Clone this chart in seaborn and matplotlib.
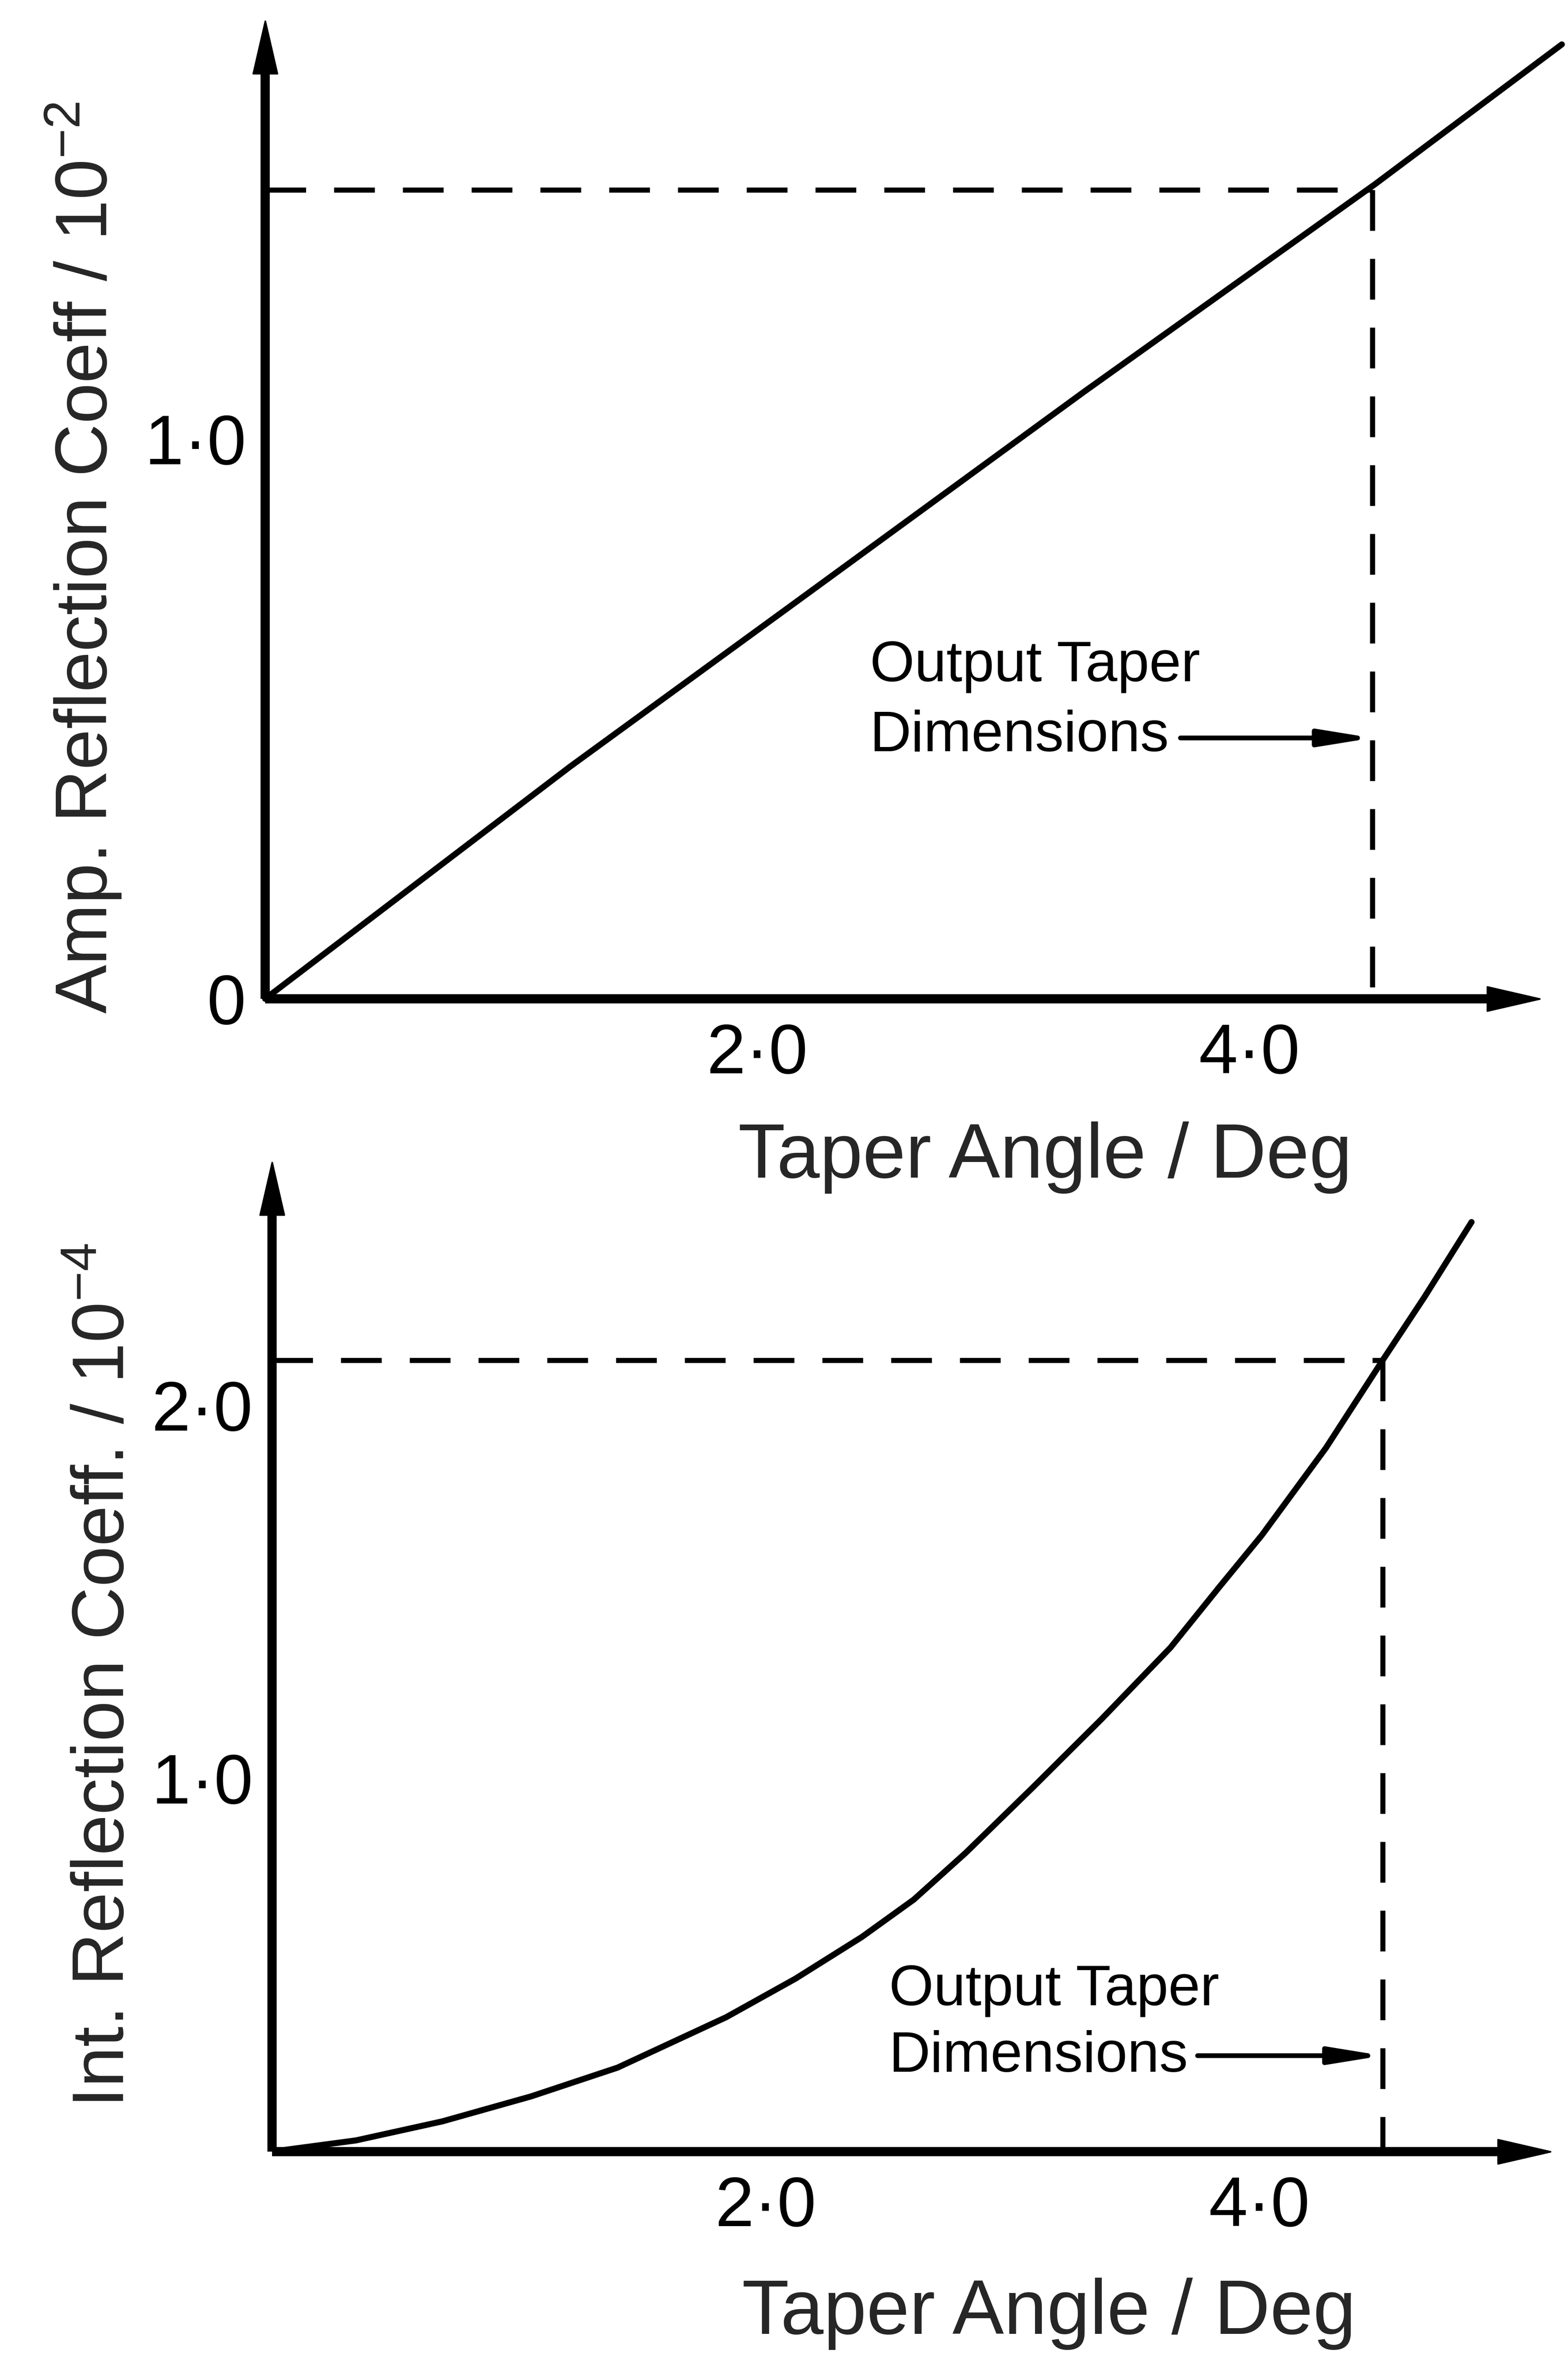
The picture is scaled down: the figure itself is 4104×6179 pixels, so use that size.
import matplotlib
matplotlib.use("Agg")
import matplotlib.pyplot as plt
from matplotlib.path import Path
import seaborn as sns

# ---------------- data ----------------
amp_angle = [0, 1.24, 2.13, 3.33, 4.51, 5.27]
amp_coeff = [0, 0.415, 0.70, 1.085, 1.455, 1.705]

int_angle = [0, 0.34, 0.69, 1.05, 1.40, 1.84, 2.12, 2.39, 2.60, 2.81,
             3.08, 3.36, 3.64, 3.84, 4.01, 4.27, 4.50, 4.67, 4.86]
int_coeff = [0, 0.03, 0.081, 0.148, 0.225, 0.36, 0.463, 0.575, 0.675, 0.80,
             0.974, 1.158, 1.35, 1.514, 1.651, 1.885, 2.12, 2.29, 2.49]

output_angle = 4.5
amp_level = 1.445
int_level = 2.12

x_ticks = [2.0, 4.0]
x_tick_labels = ["2·0", "4·0"]
amp_major = [0.0, 1.0]
amp_major_labels = ["0", "1·0"]
amp_minor = [0.5, 1.5]
int_ticks = [1.0, 2.0]
int_tick_labels = ["1·0", "2·0"]

x_label = "Taper Angle / Deg"
amp_ylabel = "Amp. Reflection Coeff / $10^{-2}$"
int_ylabel = "Int. Reflection Coeff. / $10^{-4}$"
note_lines = ["Output Taper", "Dimensions"]

# ---------------- style ----------------
sns.set_style("white")
FAM = "Liberation Sans"
plt.rcParams["font.family"] = [FAM, "DejaVu Sans"]
plt.rcParams["mathtext.fontset"] = "custom"
plt.rcParams["mathtext.rm"] = FAM
plt.rcParams["mathtext.it"] = FAM
plt.rcParams["mathtext.bf"] = FAM
plt.rcParams["mathtext.default"] = "rm"

FS_XLABEL = 48.5
FS_YLABEL = 46
FS_TICK = 44
FS_NOTE = 36
SPINE_W = 5.8
CURVE_W = 3.8
DASH_W = 3.2

DPI = 300
fig = plt.figure(figsize=(4104 / DPI, 6179 / DPI), dpi=DPI)
fig.patch.set_facecolor("white")


def head(direction):
    """Elongated filled arrow-head marker whose tip sits on the data point."""
    if direction == "right":
        v = [(0, 0), (-1, 0.23), (-1, -0.23), (0, 0)]
    else:
        v = [(0, 0), (0.23, -1), (-0.23, -1), (0, 0)]
    return Path(v, [Path.MOVETO, Path.LINETO, Path.LINETO, Path.CLOSEPOLY])


def setup_axes(ax, xmax, ymax, xtip, ytip):
    ax.set_xlim(0, xmax)
    ax.set_ylim(0, ymax)
    ax.set_facecolor("none")
    for s in ["top", "right"]:
        ax.spines[s].set_visible(False)
    for s in ["left", "bottom"]:
        ax.spines[s].set_linewidth(SPINE_W)
        ax.spines[s].set_color("black")
        ax.spines[s].set_capstyle("butt")
    ax.spines["bottom"].set_bounds(0, xtip - 0.08)
    ax.spines["left"].set_bounds(0, ytip - 0.06)
    ax.plot([xtip], [0], marker=head("right"), markersize=66, color="black",
            clip_on=False, zorder=5, linestyle="none")
    ax.plot([0], [ytip], marker=head("up"), markersize=66, color="black",
            clip_on=False, zorder=5, linestyle="none")
    ax.set_xticks(x_ticks)
    ax.set_xticklabels(x_tick_labels, fontsize=FS_TICK)
    ax.tick_params(axis="x", which="major", direction="in", length=24,
                   width=4.8, pad=15, colors="black")
    ax.tick_params(axis="y", which="both", direction="in", width=4.8,
                   pad=12, colors="black", labelsize=FS_TICK)
    ax.grid(False)


def note(ax, x0, y_top, y_bot, arrow_y, arrow_x0):
    ax.text(x0, y_top, note_lines[0], fontsize=FS_NOTE, ha="left",
            va="baseline", color="black")
    ax.text(x0, y_bot, note_lines[1], fontsize=FS_NOTE, ha="left",
            va="baseline", color="black")
    ax.annotate("", xy=(output_angle, arrow_y), xytext=(arrow_x0, arrow_y),
                arrowprops=dict(arrowstyle="-|>,head_length=0.8,head_width=0.13",
                                lw=3, color="black", shrinkA=0, shrinkB=0,
                                mutation_scale=34))


dash = (8, 5.5)

# ---------------- top panel ----------------
ax1 = fig.add_axes([694 / 4104, (6179 - 2614) / 6179, 5.3 * 644 / 4104, 1.76 * 1465 / 6179])
setup_axes(ax1, 5.3, 1.76, 5.18, 1.747)
sns.lineplot(x=amp_angle, y=amp_coeff, ax=ax1, color="black", linewidth=CURVE_W,
             estimator=None, sort=False)
for l in ax1.lines:
    l.set_clip_on(False)
ax1.plot([0, output_angle], [amp_level, amp_level], color="black", lw=DASH_W,
         dashes=dash)
ax1.plot([output_angle, output_angle], [amp_level, 0], color="black", lw=DASH_W,
         dashes=dash)
ax1.set_yticks(amp_major)
ax1.set_yticklabels(amp_major_labels, fontsize=FS_TICK)
ax1.set_yticks(amp_minor, minor=True)
ax1.tick_params(axis="y", which="major", length=26)
ax1.tick_params(axis="y", which="minor", length=16)
ax1.set_xlabel(x_label, fontsize=FS_XLABEL)
ax1.xaxis.set_label_coords(0.598, -0.1245)
ax1.set_ylabel(amp_ylabel, fontsize=FS_YLABEL)
ax1.yaxis.set_label_coords(-0.109, 0.4476)
note(ax1, 2.458, 0.567, 0.442, 0.466, 3.72)

# ---------------- bottom panel ----------------
ax2 = fig.add_axes([712 / 4104, (6179 - 5631) / 6179, 5.3 * 646 / 4104, 2.68 * 977 / 6179])
setup_axes(ax2, 5.3, 2.68, 5.18, 2.65)
sns.lineplot(x=int_angle, y=int_coeff, ax=ax2, color="black", linewidth=CURVE_W,
             estimator=None, sort=False)
ax2.plot([0, output_angle], [int_level, int_level], color="black", lw=DASH_W,
         dashes=dash)
ax2.plot([output_angle, output_angle], [int_level, 0], color="black", lw=DASH_W,
         dashes=dash)
ax2.set_yticks(int_ticks)
ax2.set_yticklabels(int_tick_labels, fontsize=FS_TICK)
ax2.tick_params(axis="y", which="major", length=24)
ax2.set_xlabel(x_label, fontsize=FS_XLABEL)
ax2.xaxis.set_label_coords(0.594, -0.126)
ax2.set_ylabel(int_ylabel, fontsize=FS_YLABEL)
ax2.yaxis.set_label_coords(-0.1016, 0.476)
note(ax2, 2.50, 0.392, 0.214, 0.257, 3.75)

fig.savefig("out.png", dpi=DPI, facecolor="white")
